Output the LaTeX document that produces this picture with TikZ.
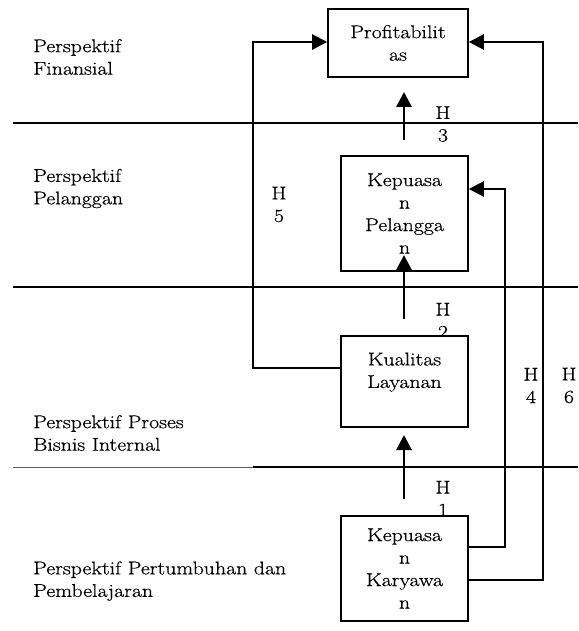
\documentclass[tikz,border=0pt]{standalone}
\usepackage{fontspec}
\setmainfont{Latin Modern Roman}[FakeStretch=1.18, FakeBold=0.6]
\usetikzlibrary{arrows.meta}
\begin{document}
\begin{tikzpicture}[x=1pt,y=-1pt,
  txt/.style={font=\fontsize{18.5}{22.5}\selectfont, inner sep=0pt},
  lbl/.style={txt, anchor=west, align=left},
  hyp/.style={txt, align=center},
  box/.style={txt, draw, line width=1.6pt, fill=white, align=center, minimum width=127pt},
  hline/.style={line width=1.8pt},
  thinline/.style={line width=0.9pt, black!65},
  conn/.style={line width=2.2pt, -{Triangle[length=15pt,width=15pt]}},
  uparr/.style={line width=2.8pt, -{Triangle[length=15pt,width=15pt]}}]
\useasboundingbox (0,0) rectangle (578,631);
% layer separators
\coordinate (l1a) at (13,123); \coordinate (l1b) at (578,123);
\coordinate (l2a) at (13,287); \coordinate (l2b) at (578,287);
\coordinate (l3a) at (13,467); \coordinate (l3m) at (253,467); \coordinate (l3b) at (578,467);
\draw[hline] (l1a) -- (l1b);
\draw[hline] (l2a) -- (l2b);
\draw[thinline] (l3a) -- (l3m);
\draw[hline] (l3m) -- (l3b);
% hypothesis labels
\node[hyp] (h3) at (443,124) {H\\3};
\node[hyp] (h2) at (443,320.5) {H\\2};
\node[hyp] (h1) at (443,498.5) {H\\1};
\node[hyp] (h5) at (279,204.5) {H\\5};
\node[hyp] (h4) at (531,385.5) {H\\4};
\node[hyp] (h6) at (569,385.5) {H\\6};
% boxes
\node[box, minimum width=140pt, minimum height=68pt] (prof) at (398,43) {Profitabilit\\as};
\node[box, minimum height=115pt] (kp) at (404.5,213.5) {Kepuasa\\n\\Pelangga\\n};
\node[box, minimum height=91pt] (kl) at (404.5,381.5) {Kualitas\\Layanan\\~};
\node[box, minimum height=105pt] (kk) at (404.5,568.5) {Kepuasa\\n\\Karyawa\\n};
% short upward arrows
\coordinate (a3s) at (404,140); \coordinate (a3e) at (404,92);
\coordinate (a2s) at (404,319); \coordinate (a2e) at (404,255);
\coordinate (a1s) at (404,499); \coordinate (a1e) at (404,435);
\draw[uparr] (a3s) -- (a3e);
\draw[uparr] (a2s) -- (a2e);
\draw[uparr] (a1s) -- (a1e);
% H5
\coordinate (c5a) at (253,368); \coordinate (c5b) at (253,42);
\draw[conn] (kl.west |- c5a) -- (c5a) -- (c5b) -- (prof.west |- c5b);
% H4
\coordinate (c4a) at (505,547); \coordinate (c4b) at (505,189);
\draw[conn] (kk.east |- c4a) -- (c4a) -- (c4b) -- (kp.east |- c4b);
% H6
\coordinate (c6a) at (543,580); \coordinate (c6b) at (543,42);
\draw[conn] (kk.east |- c6a) -- (c6a) -- (c6b) -- (prof.east |- c6b);
% perspective labels
\node[lbl] (pf) at (33,57) {Perspektif\\Finansial};
\node[lbl] (pp) at (33,188.5) {Perspektif\\Pelanggan};
\node[lbl] (pb) at (33,433) {Perspektif Proses\\Bisnis Internal};
\node[lbl] (pg) at (33,581) {Perspektif Pertumbuhan dan\\Pembelajaran};
\end{tikzpicture}
\end{document}
